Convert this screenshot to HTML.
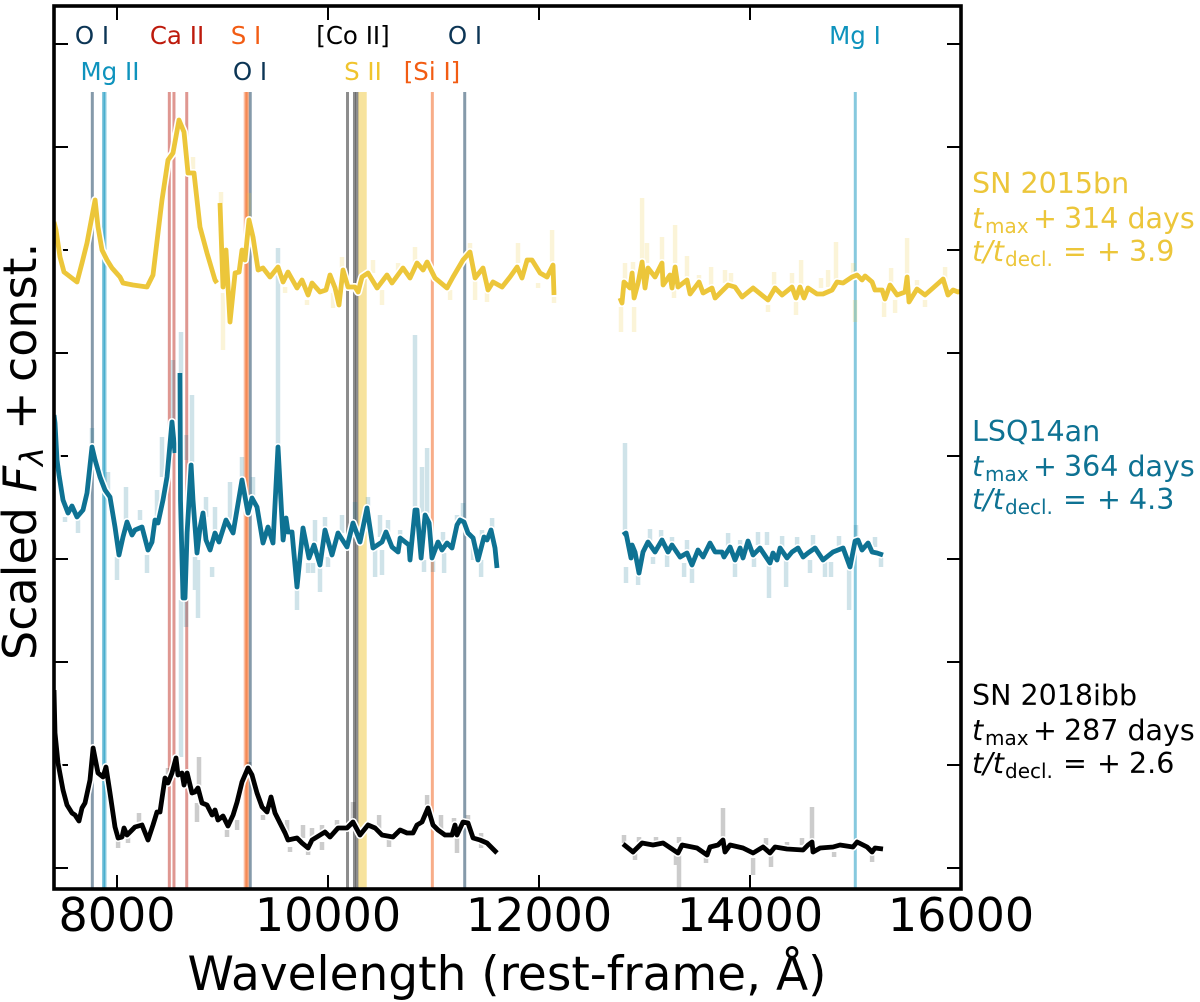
<!DOCTYPE html>
<html lang="en">
<head>
<meta charset="utf-8">
<title>Late-time NIR spectra of SLSNe</title>
<style>
html,body{margin:0;padding:0;background:#fff;width:1200px;height:1002px;overflow:hidden}
svg{display:block}
text{font-family:"DejaVu Sans","Liberation Sans",sans-serif}
.top{font-size:24.5px;text-anchor:middle}
.side{font-size:28.5px}
.sub{font-size:20px}
.tick-label{font-size:46px;text-anchor:middle;fill:#000}
</style>
</head>
<body>
<svg id="chart" xmlns="http://www.w3.org/2000/svg" width="1200" height="1002" viewBox="0 0 1200 1002">
  <defs><clipPath id="plot-clip"><rect x="54" y="6" width="907" height="883"/></clipPath></defs>
  <g id="ticks"></g>
  <g id="lines" clip-path="url(#plot-clip)"></g>
  <g id="series" clip-path="url(#plot-clip)"></g>

  <rect x="54" y="6" width="907" height="883" fill="none" stroke="#000" stroke-width="3.6"/>

  <g>
    <text class="top" x="92" y="44" fill="#0c3555">O I</text>
    <text class="top" x="110" y="80" fill="#0e93bd">Mg II</text>
    <text class="top" x="177" y="44" fill="#bd1a0c">Ca II</text>
    <text class="top" x="246" y="44" fill="#f25c13">S I</text>
    <text class="top" x="250" y="80" fill="#0c3555">O I</text>
    <text class="top" x="353" y="44" fill="#000">[Co II]</text>
    <text class="top" x="363" y="80" fill="#f0c42d">S II</text>
    <text class="top" x="432" y="80" fill="#f25c13">[Si I]</text>
    <text class="top" x="465" y="44" fill="#0c3555">O I</text>
    <text class="top" x="855" y="44" fill="#0e93bd">Mg I</text>
  </g>

  <g fill="#ecc63a">
    <text class="side" x="972" y="193">SN 2015bn</text>
    <text class="side" y="228"><tspan x="972" font-style="italic">t</tspan><tspan class="sub" x="985" y="233">max</tspan><tspan x="1033" y="228">+</tspan><tspan x="1064">314 days</tspan></text>
    <text class="side" y="261"><tspan x="972" font-style="italic">t/t</tspan><tspan class="sub" x="1005" y="266">decl.</tspan><tspan x="1063" y="261">=</tspan><tspan x="1097">+</tspan><tspan x="1129">3.9</tspan></text>
  </g>
  <g fill="#0e7293">
    <text class="side" x="972" y="441">LSQ14an</text>
    <text class="side" y="476"><tspan x="972" font-style="italic">t</tspan><tspan class="sub" x="985" y="481">max</tspan><tspan x="1033" y="476">+</tspan><tspan x="1064">364 days</tspan></text>
    <text class="side" y="509"><tspan x="972" font-style="italic">t/t</tspan><tspan class="sub" x="1005" y="514">decl.</tspan><tspan x="1063" y="509">=</tspan><tspan x="1097">+</tspan><tspan x="1129">4.3</tspan></text>
  </g>
  <g fill="#000">
    <text class="side" x="972" y="705">SN 2018ibb</text>
    <text class="side" y="740"><tspan x="972" font-style="italic">t</tspan><tspan class="sub" x="985" y="745">max</tspan><tspan x="1033" y="740">+</tspan><tspan x="1064">287 days</tspan></text>
    <text class="side" y="773"><tspan x="972" font-style="italic">t/t</tspan><tspan class="sub" x="1005" y="778">decl.</tspan><tspan x="1063" y="773">=</tspan><tspan x="1097">+</tspan><tspan x="1129">2.6</tspan></text>
  </g>

  <text x="507" y="990" font-size="47" text-anchor="middle" fill="#000">Wavelength (rest-frame, Å)</text>
  <text transform="rotate(-90 36 660)" y="660" font-size="46" fill="#000"><tspan x="36">Scaled</tspan><tspan x="203.6" font-style="italic">F</tspan><tspan x="230" y="667" font-size="32" font-style="italic">λ</tspan><tspan x="266" y="660">+</tspan><tspan x="314">const.</tspan></text>
</svg>

<script>
// Axis data
const xTickValues = [8000, 10000, 12000, 14000, 16000];
const xTickLabels = ["8000", "10000", "12000", "14000", "16000"];
const yTickValues = [0, 103, 206, 309, 412, 515, 618, 721, 824];

// Line identifications (rest wavelength, Å)
const oIWaves = [7766, 9263, 11296];
const mgIIWaves = [7872, 7886];
const caIIWaves = [8496, 8540, 8661];
const sIWaves = [9215, 9228, 9238];
const coIIWaves = [10185, 10251, 10275];
const siIWaves = [10989];
const mgIWaves = [14998];
const sIIBand = [10287, 10367];

// Series vertical offsets (const. added to each scaled spectrum)
const yellowOffset = 578;
const tealOffset = 323;
const blackOffset = 18;

// SN 2015bn smoothed spectrum
const yellowWavesA = [7403,7422,7460,7498,7621,7668,7716,7744,7792,7820,7858,7905,7953,8028,8057,8152,8284,8341,8389,8427,8483,8531,8588,8635,8673,8730,8787,8853,8929,8948];
const yellowFluxA = [68,60,33,18,8,27,47,63,90,63,40,30,22,13,7,5,3,15,57,90,130,137,170,158,117,117,63,37,10,7];
const yellowWavesB = [8976,9005,9033,9071,9119,9157,9185,9213,9251,9289,9337,9384,9450,9526,9574,9621,9706,9754,9811,9848,9924,9981,10019,10067,10104,10142,10190,10256,10285,10322,10379,10465,10559,10607,10711,10777,10844,10901,10939,11014,11128,11185,11280,11346,11394,11469,11517,11564,11650,11725,11792,11839,11887,11934,12010,12076,12133,12142];
const yellowFluxB = [87,3,40,-32,17,18,40,30,70,53,20,22,13,23,8,18,2,10,-5,7,-2,0,15,2,-15,20,3,3,-2,13,17,2,15,7,22,12,27,20,28,12,2,13,30,38,12,22,0,8,3,13,23,12,30,30,17,13,25,-5];
const yellowWavesC = [12768,12787,12806,12863,12882,12901,12939,12977,13005,13033,13100,13166,13176,13242,13261,13290,13318,13403,13432,13517,13555,13640,13669,13792,13858,13925,14029,14076,14171,14237,14304,14398,14436,14474,14512,14550,14635,14692,14778,14825,14882,14967,15015,15062,15091,15157,15185,15252,15280,15327,15394,15470,15489,15507,15583,15659,15735,15830,15877,15925,15972,16000];
const yellowFluxC = [-8,-13,8,2,17,-8,7,28,2,22,13,27,5,15,2,23,3,10,-4,8,-3,2,-8,5,3,-7,2,-2,-10,2,-5,3,-8,3,-8,2,-4,-4,0,8,7,13,15,10,14,8,0,0,-9,5,-5,-2,13,-12,1,-5,2,11,-5,0,-2,-1];

// SN 2015bn unsmoothed spikes
const yellowRawWaves = [8720,8986,9005,9251,9593,9801,10048,10133,10512,10825,11157,11346,11394,11507,11801,11991,12124,12142,10664,10427,12777,12815,12901,12891,12977,13024,13166,13290,13280,13403,13517,13631,13763,13820,14171,14228,14398,14436,14484,14673,14740,14815,14977,14996,15271,15337,15375,15489,15583,15659,15849];
const yellowRawHigh = [133,98,-3,97,3,-10,-3,33,0,43,0,47,10,7,47,7,60,-7,27,30,-17,27,-17,28,92,47,53,65,2,34,15,23,20,17,-15,18,17,-12,30,12,20,48,27,-10,-10,22,-10,52,10,-10,23];
const yellowRawLow = [120,87,-60,70,-3,-15,-18,20,-15,27,-10,37,-10,-12,27,2,27,-13,15,17,-42,7,-42,17,30,27,27,27,-8,10,8,3,7,7,-22,3,5,-25,5,2,3,10,15,-32,-27,5,-23,13,0,-17,10];

// LSQ14an smoothed spectrum
const tealWavesA = [7403,7412,7431,7450,7488,7536,7573,7621,7678,7716,7763,7792,7839,7886,7934,7981,8019,8057,8095,8142,8171,8237,8294,8332,8360,8389,8436,8474,8521,8550];
const tealFluxA = [130,122,85,70,45,32,39,28,35,52,98,85,68,55,48,18,-10,8,23,10,15,18,-5,3,25,22,45,68,123,92];
const tealWavesB = [8597,8602,8626,8645,8664,8702,8720,8758,8787,8815,8844,8882,8929,8967,9033,9100,9185,9242,9280,9327,9384,9431,9479,9526,9574,9602,9621,9659,9706,9763,9820,9867,9924,9972,10038,10095,10180,10237,10303,10370,10427,10512,10550,10607,10664,10683,10768,10777,10825,10844,10882,10920,10958,10986,11043,11081,11128,11175,11223,11251,11289,11327,11375,11422,11479,11507,11545,11583,11602];
const tealFluxB = [172,45,-53,-53,12,80,45,-8,17,32,5,-5,12,3,25,12,65,32,47,38,2,18,2,98,5,27,13,13,-42,17,-13,0,-20,15,-10,12,-2,22,3,37,-3,3,13,-2,-7,7,0,-15,35,35,-13,30,22,-13,3,-5,2,-3,20,25,23,12,7,-15,8,5,15,-3,-23];
const tealWavesC = [12797,12825,12872,12882,12910,12948,12986,13033,13100,13166,13223,13261,13337,13403,13450,13507,13555,13621,13669,13735,13754,13811,13858,13906,13934,13981,14029,14095,14190,14218,14256,14285,14351,14398,14455,14503,14550,14617,14692,14787,14882,14948,14996,15024,15062,15119,15157,15204,15261];
const tealFluxC = [10,12,-13,0,-7,-28,-7,3,-7,5,-7,0,-12,-8,-20,-5,-12,2,-7,-7,-12,-2,-15,-3,-13,4,-10,-3,-18,-8,-15,-3,-13,-7,-3,-12,-8,-3,-15,-7,-3,-22,4,5,-5,2,-7,-8,-10];

// LSQ14an unsmoothed spikes
const tealRawWaves = [7507,7630,7763,7915,8000,8085,8218,8284,8427,8379,8531,8654,8711,8739,8768,8654,8607,8607,8844,8901,8929,9071,9185,9289,9526,9706,9924,9972,9811,9858,9877,10000,10133,10256,10379,10446,10493,10512,10569,10683,10825,10891,10939,10910,10995,11100,11090,11223,11280,11375,11451,11460,11555,12815,12825,12939,13052,13081,13157,13214,13261,13375,13403,13450,13792,13858,13906,14038,14076,14161,14180,14304,14342,14446,14569,14597,14711,14768,14844,14939,15005,15185,15242];
const tealRawHigh = [28,25,117,73,-12,58,35,-10,108,55,185,110,150,-12,-15,-55,213,-55,48,-22,38,63,88,68,297,-42,-22,28,-18,-18,25,-12,30,43,48,-5,30,-5,25,15,210,78,97,-15,-15,-8,13,30,42,2,-15,15,27,102,-22,-28,16,-12,15,-10,8,-18,5,-23,12,-17,5,-13,13,13,-18,9,-15,8,-15,10,-17,-17,9,-22,20,8,-13];
const tealRawLow = [23,12,98,53,-35,22,25,-28,68,28,125,85,78,-45,-73,-82,172,-212,28,-32,15,25,65,38,98,-65,-47,15,-28,-28,2,-22,12,23,38,-32,8,-30,12,7,38,32,32,-27,-27,-28,2,20,27,-15,-32,5,15,12,-38,-40,3,-19,5,-22,0,-32,-7,-38,-2,-32,-2,-22,0,0,-53,-2,-42,-2,-28,-2,-32,-32,-2,-65,5,-2,-22];

// SN 2018ibb smoothed spectrum
const blackWavesA = [7403,7412,7441,7488,7526,7573,7602,7640,7668,7697,7744,7773,7820,7867,7896,7934,7981,8010,8047,8066,8095,8171,8237,8294,8341,8379,8408,8455,8483,8521,8559,8578,8616,8635,8664,8711,8739,8768,8806,8853,8901,8929,8957,9005,9052,9100,9138,9185,9242,9280,9327,9375,9422,9460,9498,9545,9593,9621,9706,9754,9811,9848,9972,10019,10095,10180,10237,10303,10379,10446,10512,10616,10683,10749,10806,10844,10891,10948,10995,11043,11109,11175,11204,11223,11280,11327,11375,11441,11507,11602];
const blackFluxA = [160,117,87,60,45,37,35,29,42,47,70,102,77,73,83,57,23,12,13,22,15,23,25,10,25,38,38,72,67,77,92,75,77,65,77,57,58,62,47,45,35,40,30,34,24,35,48,68,82,75,57,43,38,53,37,27,17,10,12,7,2,10,18,13,22,22,28,15,25,22,15,13,20,17,17,25,28,42,25,20,15,15,25,15,28,27,12,10,7,-3];
const blackWavesB = [12797,12891,12977,13081,13176,13318,13356,13498,13593,13621,13697,13744,13763,13811,13934,14029,14123,14190,14237,14351,14503,14550,14588,14597,14664,14787,14853,14976,15015,15110,15157,15185,15261];
const blackFluxB = [6,-2,7,5,7,-3,5,2,-5,3,5,10,-2,5,2,-3,3,-3,3,1,0,5,8,-2,2,3,5,3,8,3,-2,2,1];

// SN 2018ibb unsmoothed spikes
const blackRawWaves = [8010,8104,8209,8483,8777,8758,9043,9138,9251,9384,9612,9640,9763,9848,9943,9943,9811,10085,10237,10484,10578,10939,11071,11194,11223,11327,11451,12806,12910,12948,13109,13327,13327,13299,13583,13744,14029,14152,14199,14351,14493,14588,14797,15157];
const blackRawHigh = [10,13,37,82,93,47,20,30,88,35,30,3,25,22,25,8,0,30,48,35,12,55,35,32,13,35,17,15,-3,13,13,13,-5,-5,-7,42,-8,12,-5,8,12,43,-2,-5];
const blackRawLow = [2,7,27,75,63,28,13,20,83,30,17,-2,12,12,17,0,-5,22,28,18,3,43,20,23,-3,30,2,7,-10,8,7,7,-38,-15,-13,10,-25,5,-17,3,5,8,-7,-12];

// Axis functions
function xScale(wave) { return 117 + (wave - 8000) * 0.1055; }
function yScale(flux) { return 868 - flux; }

const NS = 'http://www.w3.org/2000/svg';
const ticksGroup = document.getElementById('ticks');
const linesGroup = document.getElementById('lines');
const seriesGroup = document.getElementById('series');
const chart = document.getElementById('chart');

// X ticks and labels
xTickValues.forEach(function (v, i) {
  const x = xScale(v);
  const bottom = document.createElementNS(NS, 'line');
  bottom.setAttribute('x1', x); bottom.setAttribute('x2', x);
  bottom.setAttribute('y1', 889); bottom.setAttribute('y2', 875);
  bottom.setAttribute('stroke', '#000'); bottom.setAttribute('stroke-width', 2);
  
  
  ticksGroup.appendChild(bottom);

  const top = document.createElementNS(NS, 'line');
  top.setAttribute('x1', x); top.setAttribute('x2', x);
  top.setAttribute('y1', 6); top.setAttribute('y2', 20);
  top.setAttribute('stroke', '#000'); top.setAttribute('stroke-width', 2);
  
  
  ticksGroup.appendChild(top);

  const label = document.createElementNS(NS, 'text');
  label.setAttribute('x', x);
  label.setAttribute('y', 931);
  label.setAttribute('class', 'tick-label');
  label.textContent = xTickLabels[i];
  
  
  chart.appendChild(label);
});

// Y ticks
yTickValues.forEach(function (v) {
  const y = yScale(v);
  const left = document.createElementNS(NS, 'line');
  left.setAttribute('x1', 54); left.setAttribute('x2', 68);
  left.setAttribute('y1', y); left.setAttribute('y2', y);
  left.setAttribute('stroke', '#000'); left.setAttribute('stroke-width', 2);
  
  
  ticksGroup.appendChild(left);

  const right = document.createElementNS(NS, 'line');
  right.setAttribute('x1', 961); right.setAttribute('x2', 947);
  right.setAttribute('y1', y); right.setAttribute('y2', y);
  right.setAttribute('stroke', '#000'); right.setAttribute('stroke-width', 2);
  
  
  ticksGroup.appendChild(right);
});

// Line-identification markers
function drawMarkers(waves, color, opacity, name) {
  waves.forEach(function (w) {
    const l = document.createElementNS(NS, 'line');
    l.setAttribute('x1', xScale(w)); l.setAttribute('x2', xScale(w));
    l.setAttribute('y1', 92); l.setAttribute('y2', 889);
    l.setAttribute('stroke', color);
    l.setAttribute('stroke-width', 3);
    l.setAttribute('stroke-opacity', opacity);
    
    
    linesGroup.appendChild(l);
  });
}
drawMarkers(oIWaves, '#0c3555', 0.5, 'o-i-line');
drawMarkers(mgIIWaves, '#0e93bd', 0.5, 'mg-ii-line');
drawMarkers(caIIWaves, '#b9180a', 0.45, 'ca-ii-line');
drawMarkers(sIWaves, '#f25c13', 0.4, 's-i-line');
drawMarkers(coIIWaves, '#000000', 0.45, 'co-ii-line');
drawMarkers(siIWaves, '#f25c13', 0.5, 'si-i-line');
drawMarkers(mgIWaves, '#0e93bd', 0.5, 'mg-i-line');

const band = document.createElementNS(NS, 'rect');
band.setAttribute('x', xScale(sIIBand[0]));
band.setAttribute('y', 92);
band.setAttribute('width', xScale(sIIBand[1]) - xScale(sIIBand[0]));
band.setAttribute('height', 797);
band.setAttribute('fill', '#f0c83c');
band.setAttribute('fill-opacity', 0.5);


linesGroup.appendChild(band);

// Raw spikes
function drawRaw(waves, high, low, offset, color, opacity, name) {
  let d = '';
  waves.forEach(function (w, i) {
    d += 'M' + xScale(w).toFixed(1) + ' ' + yScale(high[i] + offset).toFixed(1) +
         'V' + yScale(low[i] + offset).toFixed(1);
  });
  const p = document.createElementNS(NS, 'path');
  p.setAttribute('d', d);
  p.setAttribute('fill', 'none');
  p.setAttribute('stroke', color);
  p.setAttribute('stroke-width', 4.5);
  p.setAttribute('stroke-opacity', opacity);
  
  
  seriesGroup.appendChild(p);
}

// Smoothed curve with white halo
function drawCurve(waves, flux, offset, color, name) {
  let d = '';
  waves.forEach(function (w, i) {
    d += (i ? 'L' : 'M') + xScale(w).toFixed(1) + ' ' + yScale(flux[i] + offset).toFixed(1);
  });
  const halo = document.createElementNS(NS, 'path');
  halo.setAttribute('d', d);
  halo.setAttribute('fill', 'none');
  halo.setAttribute('stroke', '#fff');
  halo.setAttribute('stroke-width', 8);
  halo.setAttribute('stroke-linejoin', 'round');
  
  
  seriesGroup.appendChild(halo);

  const line = document.createElementNS(NS, 'path');
  line.setAttribute('d', d);
  line.setAttribute('fill', 'none');
  line.setAttribute('stroke', color);
  line.setAttribute('stroke-width', 4.8);
  line.setAttribute('stroke-linejoin', 'round');
  
  
  seriesGroup.appendChild(line);
}

drawRaw(yellowRawWaves, yellowRawHigh, yellowRawLow, yellowOffset, '#ecc63a', 0.2, 'sn-2015bn-raw-spectrum');
drawRaw(tealRawWaves, tealRawHigh, tealRawLow, tealOffset, '#0e7293', 0.2, 'lsq14an-raw-spectrum');
drawRaw(blackRawWaves, blackRawHigh, blackRawLow, blackOffset, '#000000', 0.2, 'sn-2018ibb-raw-spectrum');

drawCurve(yellowWavesA, yellowFluxA, yellowOffset, '#ecc63a', 'sn-2015bn-spectrum-a');
drawCurve(yellowWavesB, yellowFluxB, yellowOffset, '#ecc63a', 'sn-2015bn-spectrum-b');
drawCurve(yellowWavesC, yellowFluxC, yellowOffset, '#ecc63a', 'sn-2015bn-spectrum-c');
drawCurve(tealWavesA, tealFluxA, tealOffset, '#0e7293', 'lsq14an-spectrum-a');
drawCurve(tealWavesB, tealFluxB, tealOffset, '#0e7293', 'lsq14an-spectrum-b');
drawCurve(tealWavesC, tealFluxC, tealOffset, '#0e7293', 'lsq14an-spectrum-c');
drawCurve(blackWavesA, blackFluxA, blackOffset, '#000000', 'sn-2018ibb-spectrum-a');
drawCurve(blackWavesB, blackFluxB, blackOffset, '#000000', 'sn-2018ibb-spectrum-b');
</script>
</body>
</html>
